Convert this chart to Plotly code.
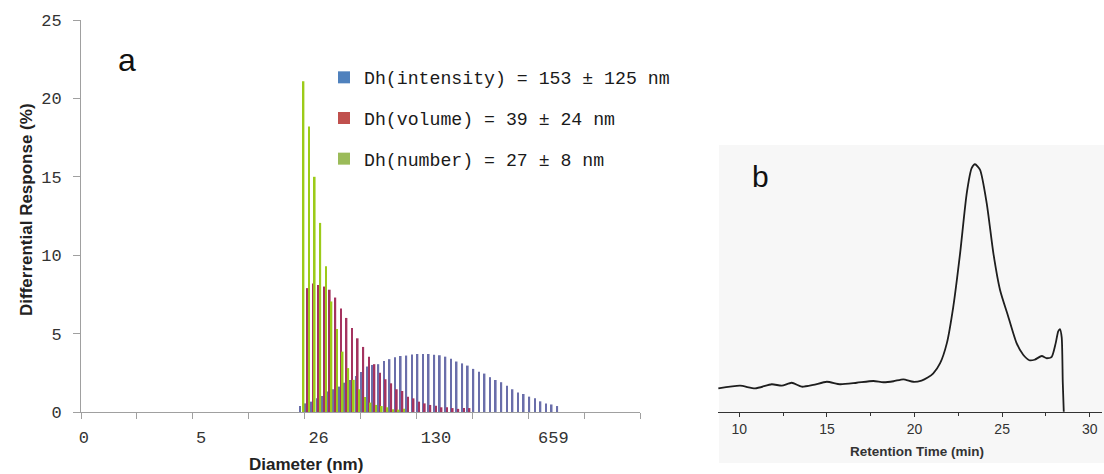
import plotly.graph_objects as go

# ---------------- Panel a: DLS size distribution (category bins) ----------------
n_bins = 100
bin_index = list(range(n_bins))
tick_label_bins = [0, 21, 42, 63, 84]
tick_labels = ["0", "5", "26", "130", "659"]

first_intensity_bin = 39
intensity = [0.38, 0.55, 0.66, 0.87, 1.02, 1.30, 1.45, 1.62, 1.87, 2.04,
             2.30, 2.55, 2.90, 3.00, 3.05, 3.26, 3.37, 3.49, 3.57, 3.60,
             3.66, 3.70, 3.70, 3.70, 3.65, 3.62, 3.53, 3.40, 3.22, 3.10,
             2.96, 2.75, 2.56, 2.45, 2.22, 2.04, 1.90, 1.68, 1.45, 1.25,
             1.15, 0.98, 0.87, 0.68, 0.55, 0.48, 0.38]
first_volume_bin = 40
volume = [7.9, 8.2, 8.1, 8.0, 7.8, 7.3, 6.6, 6.0, 5.35, 4.7,
          4.15, 3.53, 3.05, 2.5, 2.09, 1.83, 1.45, 1.34, 0.98, 0.87,
          0.66, 0.55, 0.45, 0.40, 0.30, 0.30, 0.25, 0.20, 0.25, 0.25]
first_number_bin = 39
number = [21.1, 18.2, 15.0, 12.06, 9.3, 7.05, 5.3, 3.85, 2.8, 2.05,
          1.45, 0.95, 0.6, 0.45, 0.38, 0.3, 0.18, 0.15, 0.2]

legend_labels = ["Dh(intensity) = 153 \u00b1 125 nm",
                 "Dh(volume) = 39 \u00b1 24 nm",
                 "Dh(number) = 27 \u00b1 8 nm"]
bar_colors = ["#6A6EAA", "#A4335F", "#9CCB19"]
legend_colors = ["#4F81BD", "#C0504D", "#9BBB59"]

# ---------------- Panel b: SEC chromatogram ----------------
retention_time = [8.80, 10.04, 10.90, 11.85, 12.42, 12.99, 13.56, 14.22, 14.99, 15.75,
                  16.70, 17.65, 18.22, 18.80, 19.36, 19.93, 20.40, 20.75, 21.07, 21.46,
                  21.84, 22.21, 22.60, 22.98, 23.26, 23.45, 23.74, 24.12, 24.50, 24.88,
                  25.35, 25.83, 26.20, 26.55, 26.85, 27.26, 27.55, 27.83, 28.05, 28.20,
                  28.30, 28.40, 28.46, 28.52]
signal = [9.4, 10.5, 9.4, 11.1, 10.5, 11.7, 10.1, 10.8, 12.1, 11.1,
          11.7, 12.4, 11.9, 12.3, 13.1, 12.1, 12.6, 13.8, 15.5, 19.6,
          27.6, 42.4, 64.0, 88.3, 98.4, 100.0, 97.7, 84.2, 64.0, 49.2,
          38.4, 27.6, 23.0, 20.8, 21.0, 22.5, 21.6, 22.2, 27.5, 32.5,
          33.4, 30.0, 12.0, -0.5]

W, H = 1104, 474
def px(x):
    return x / W
def py(y):
    return 1 - y / H

mono = "Liberation Mono"
sans = "Liberation Sans"

fig = go.Figure()

bar_sets = [(first_intensity_bin, intensity), (first_volume_bin, volume), (first_number_bin, number)]
for (start, vals), col in zip(bar_sets, bar_colors):
    full = [0.0] * n_bins
    for k, v in enumerate(vals):
        full[start + k] = v
    fig.add_trace(go.Bar(x=bin_index, y=full, marker=dict(color=col, line=dict(width=0)),
                         showlegend=False, xaxis="x", yaxis="y"))

for i, (lab, col) in enumerate(zip(legend_labels, legend_colors)):
    fig.add_trace(go.Scatter(x=[None], y=[None], mode="markers", name=lab,
                             legendgroup="g%d" % i,
                             marker=dict(symbol="square", size=8, color=col),
                             xaxis="x", yaxis="y"))

fig.add_trace(go.Scatter(x=retention_time, y=signal, mode="lines",
                         line=dict(color="#1E1E1E", width=1.8, shape="spline", smoothing=0.6),
                         showlegend=False, xaxis="x2", yaxis="y2"))

axis_gray = "#A0A0A0"
def ann(text, x, y, size, color="#111111", angle=0):
    return dict(text=text, x=px(x), y=py(y), xref="paper", yref="paper", showarrow=False,
                xanchor="center", yanchor="middle", textangle=angle,
                font=dict(family=sans, size=size, color=color))

fig.update_layout(
    width=W, height=H,
    margin=dict(l=0, r=0, t=0, b=0, autoexpand=False),
    paper_bgcolor="white", plot_bgcolor="rgba(0,0,0,0)",
    barmode="group", bargap=0.08, bargroupgap=0,
    xaxis=dict(domain=[px(81), px(640)], range=[-0.5, n_bins - 0.5],
               tickmode="array", tickvals=tick_label_bins, ticktext=tick_labels,
               ticks="outside", ticklen=10, tickcolor="rgba(0,0,0,0)",
               tickfont=dict(family=mono, size=17, color="#333333"),
               minor=dict(tickmode="linear", tick0=-0.5, dtick=10, ticks="outside",
                          ticklen=6, tickcolor=axis_gray, tickwidth=1, showgrid=False),
               showline=True, linecolor=axis_gray, linewidth=1,
               showgrid=False, zeroline=False, automargin=False),
    yaxis=dict(domain=[py(412), py(20)], range=[0, 25], tickvals=[0, 5, 10, 15, 20, 25],
               ticks="outside", ticklen=7, tickcolor=axis_gray, ticklabelstandoff=8,
               tickfont=dict(family=mono, size=17, color="#333333"),
               showline=True, linecolor=axis_gray, linewidth=1,
               showgrid=False, zeroline=False, automargin=False),
    xaxis2=dict(domain=[px(718), px(1102)], range=[8.78, 30.70], anchor="y2",
                tickvals=[10, 15, 20, 25, 30], ticks="outside", ticklen=4,
                tickcolor="#333333", tickwidth=1,
                minor=dict(tickmode="linear", tick0=12.5, dtick=5, ticks="outside",
                           ticklen=3, tickcolor="#333333", showgrid=False),
                tickfont=dict(family=sans, size=14, color="#333333"),
                showline=True, linecolor="#333333", linewidth=1.2,
                showgrid=False, zeroline=False, automargin=False),
    yaxis2=dict(domain=[py(411.7), py(140)], range=[0, 109.8], anchor="x2",
                visible=False),
    legend=dict(x=px(324), y=py(59), xanchor="left", yanchor="top",
                bgcolor="rgba(0,0,0,0)", traceorder="grouped", tracegroupgap=14,
                font=dict(family=mono, size=18.2, color="#1A1A1A"),
                itemsizing="constant"),
    shapes=[dict(type="rect", xref="paper", yref="paper", x0=px(719), x1=1.0,
                 y0=py(463), y1=py(145), fillcolor="#F7F7F7", line=dict(width=0),
                 layer="below")],
    annotations=[
        ann("a", 127, 60, 32),
        ann("b", 760, 176, 30),
        ann("<b>Differrential Response (%)</b>", 27, 210, 17, "#222222", -90),
        ann("<b>Diameter (nm)</b>", 306, 464, 17, "#222222"),
        ann("<b>Retention Time (min)</b>", 917, 451, 13.5, "#333333"),
    ],
)

fig.write_html("out.html")
